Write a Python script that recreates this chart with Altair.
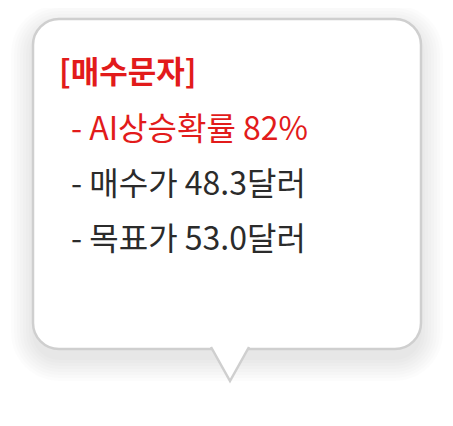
import altair as alt
import pandas as pd

# speech-bubble message
lines = ["[매수문자]", "- AI상승확률 82%", "- 매수가 48.3달러", "- 목표가 53.0달러"]
line_y = [74, 130, 185, 240]
line_x = [59, 71, 71, 71]
line_color = ["#e21b1b", "#e21b1b", "#2b2b2b", "#2b2b2b"]
line_weight = ["bold", "normal", "normal", "normal"]
line_size = [31, 32, 32, 32]

# bubble geometry (page pixels)
box = pd.DataFrame({"x": [33], "x2": [421], "y": [19], "y2": [349]})
tail_x = [211, 230, 249]
tail_y = [347, 347, 347]
tail_y2 = [347, 381, 347]

W, H = 437, 410
xs = alt.Scale(domain=[8, 8 + W], nice=False, zero=False)
ys = alt.Scale(domain=[8, 8 + H], reverse=True, nice=False, zero=False)
X = lambda f: alt.X(f, scale=xs, axis=None)
Y = lambda f: alt.Y(f, scale=ys, axis=None)

shadows = []
for i in range(8):
    d = i * 3 + 1
    sdf = pd.DataFrame({"x": [33 - d], "x2": [421 + d], "y": [19 - d + 8], "y2": [349 + d + 10]})
    shadows.append(
        alt.Chart(sdf).mark_rect(cornerRadius=26 + d, color="black", opacity=0.012)
        .encode(x=X("x:Q"), x2="x2", y=Y("y:Q"), y2="y2")
    )

rect = alt.Chart(box).mark_rect(cornerRadius=26, fill="white", stroke="#cfcfcf", strokeWidth=2.5).encode(
    x=X("x:Q"), x2="x2", y=Y("y:Q"), y2="y2"
)

tail = pd.DataFrame({"x": tail_x, "y": tail_y, "y2": tail_y2})
tail_fill = alt.Chart(tail).mark_area(color="white").encode(x=X("x:Q"), y=Y("y:Q"), y2="y2")
tail_edge = alt.Chart(tail).mark_line(color="#cfcfcf", strokeWidth=2.5).encode(
    x=X("x:Q"), y=Y("y2:Q")
)

txt = pd.DataFrame({"t": lines, "x": line_x, "y": line_y, "c": line_color,
                    "w": line_weight, "s": line_size})
texts = []
for wgt in ["bold", "normal"]:
    texts.append(
        alt.Chart(txt).transform_filter(alt.datum.w == wgt)
        .mark_text(align="left", baseline="middle", font="Noto Sans CJK KR", fontWeight=wgt)
        .encode(x=X("x:Q"), y=Y("y:Q"), text="t:N", color=alt.Color("c:N", scale=None),
                size=alt.Size("s:Q", scale=None))
    )

chart = alt.layer(*shadows, rect, tail_fill, tail_edge, *texts).properties(
    width=W, height=H, padding=0, autosize="none"
).configure_view(stroke=None)

chart.save("out.html", embed_options={"renderer": "svg", "actions": False})
